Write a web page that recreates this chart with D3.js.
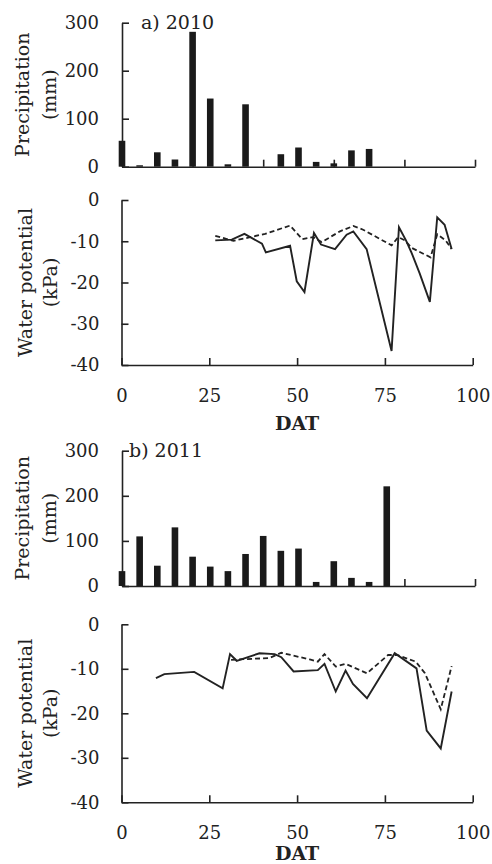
<!DOCTYPE html>
<html>
<head>
<meta charset="utf-8">
<script src="https://cdn.jsdelivr.net/npm/d3@7"></script>
<style>
  body { margin: 0; background: #fff; }
  text { font-family: "DejaVu Serif", serif; fill: #222; }
  .axis path, .axis line { stroke: #222; stroke-width: 1.6; }
  .axis text { font-size: 18px; }
</style>
</head>
<body>
<svg id="chart" width="492" height="864"></svg>
<script>
// precipitation bars (DAT, mm)
const barDat2010 = [0, 5, 10, 15, 20, 25, 30, 35, 40, 45, 50, 55, 60, 65, 70];
const precip2010 = [54, 3, 30, 15, 281, 142, 5, 130, 0, 26, 40, 10, 7, 34, 37];
const barDat2011 = [0, 5, 10, 15, 20, 25, 30, 35, 40, 45, 50, 55, 60, 65, 70, 75];
const precip2011 = [33, 110, 45, 130, 65, 43, 33, 71, 111, 78, 83, 9, 55, 18, 9, 221];

// water potential, solid line
const solidDat2010 = [26.7, 31.4, 35, 40, 41.1, 48, 49.9, 52.1, 54.8, 56.8, 60.8, 64.1, 66, 69.8, 76.9, 79, 81, 82.6, 84.9, 87.8, 89.9, 92, 94];
const solidKpa2010 = [-9.8, -9.6, -8.2, -10.6, -12.7, -11.1, -19.7, -22.3, -8.0, -10.8, -11.9, -8.4, -7.6, -11.9, -36.6, -6.6, -9.8, -12.8, -17.8, -24.7, -4.2, -6.0, -11.9];
// water potential, dashed line
const dashDat2010 = [26.7, 31.9, 40.9, 48, 51.5, 54.6, 57, 62.2, 66, 68.8, 76.9, 78.8, 80.7, 82.6, 88, 89.9, 92.3, 94];
const dashKpa2010 = [-8.7, -9.9, -8.2, -6.2, -9.5, -9, -10.2, -7.6, -6.3, -7.2, -11, -9, -9.8, -11.6, -13.9, -8.3, -9.8, -11.9];

const solidDat2011 = [9.8, 12.2, 20.7, 28.8, 30.9, 32.8, 39.3, 43.6, 45.5, 49, 55.9, 57.8, 61, 63.8, 65.9, 69.9, 77.8, 84, 86.9, 90.9, 94];
const solidKpa2011 = [-12.1, -11.2, -10.7, -14.4, -6.7, -8.2, -6.5, -6.7, -7.4, -10.6, -10.3, -8.9, -15.1, -10.4, -13.4, -16.6, -6.5, -9.9, -23.9, -27.9, -15.1];
const dashDat2011 = [31.2, 33, 42.1, 45.5, 53.6, 55.9, 57.8, 61, 63.8, 69.9, 75.9, 78.5, 83.8, 86.4, 90.9, 94];
const dashKpa2011 = [-8.0, -7.9, -7.6, -6.4, -7.9, -8.4, -6.7, -9.5, -8.9, -11, -6.9, -6.9, -8.4, -11, -19.1, -9.4];

const precipTicks = [0, 100, 200, 300];
const potTicks = [0, -10, -20, -30, -40];
const datTicks = [0, 25, 50, 75, 100];

const svg = d3.select("#chart");
const zip = (xs, ys) => xs.map((d, i) => [d, ys[i]]);
// plain hyphen for negatives, like the original figure
const plain = (d) => String(d);

const drawPanel = (p) => {
  // precipitation bars
  const xb = d3.scaleLinear().domain([0, 100]).range([122, 475]);
  const yb = d3.scaleLinear().domain([0, 300]).range([p.barBottom, p.barTop]);

  svg.append("g")
     .attr("class", "axis")
     .attr("transform", "translate(0," + p.barBottom + ")")
     .call(d3.axisBottom(xb).tickValues([20, 40, 60, 80, 100]).tickSizeInner(-7).tickSizeOuter(0).tickFormat(""));

  svg.append("g")
     .attr("class", "axis")
     .attr("transform", "translate(" + xb(0) + ",0)")
     .call(d3.axisLeft(yb).tickValues(precipTicks).tickSizeInner(-7).tickSizeOuter(0).tickPadding(23).tickFormat(plain));

  svg.append("g")
     .selectAll("rect")
     .data(zip(p.barDat, p.precip))
     .enter().append("rect")
       .attr("x", (d) => xb(d[0]) - 3.3)
       .attr("y", (d) => yb(d[1]))
       .attr("width", 6.6)
       .attr("height", (d) => p.barBottom - yb(d[1]))
       .attr("fill", "#1a1a1a");

  svg.append("text")
     .attr("x", p.titleX)
     .attr("y", p.barTop + 6)
     .style("font-size", "19px")
     .text(p.title);

  // text label for the precipitation axis
  svg.append("text")
     .attr("transform", "translate(22," + ((p.barTop + p.barBottom) / 2) + ") rotate(-90)")
     .attr("dy", "0.35em")
     .style("text-anchor", "middle")
     .style("font-size", "19px")
     .text("Precipitation");
  svg.append("text")
     .attr("transform", "translate(49," + ((p.barTop + p.barBottom) / 2) + ") rotate(-90)")
     .attr("dy", "0.35em")
     .style("text-anchor", "middle")
     .style("font-size", "19px")
     .text("(mm)");

  // water potential lines
  const xl = d3.scaleLinear().domain([0, 100]).range([121.5, 472.7]);
  const yl = d3.scaleLinear().domain([-40, 0]).range([p.lineBottom, p.lineTop]);

  svg.append("g")
     .attr("class", "axis")
     .attr("transform", "translate(0," + p.lineBottom + ")")
     .call(d3.axisBottom(xl).tickValues(datTicks).tickSizeInner(-7).tickSizeOuter(0).tickPadding(24).tickFormat(plain));

  svg.append("g")
     .attr("class", "axis")
     .attr("transform", "translate(" + xl(0) + ",0)")
     .call(d3.axisLeft(yl).tickValues(potTicks).tickSizeInner(-7).tickSizeOuter(0).tickPadding(22).tickFormat(plain));

  const line = d3.line().x((d) => xl(d[0])).y((d) => yl(d[1]));

  svg.append("path")
     .datum(zip(p.dashDat, p.dashKpa))
     .attr("d", line)
     .attr("fill", "none")
     .attr("stroke", "#222")
     .attr("stroke-width", 1.8)
     .attr("stroke-dasharray", "5,3");

  svg.append("path")
     .datum(zip(p.solidDat, p.solidKpa))
     .attr("d", line)
     .attr("fill", "none")
     .attr("stroke", "#222")
     .attr("stroke-width", 1.9);

  svg.append("text")
     .attr("transform", "translate(25," + ((p.lineTop + p.lineBottom) / 2) + ") rotate(-90)")
     .attr("dy", "0.35em")
     .style("text-anchor", "middle")
     .style("font-size", "19px")
     .text("Water potential");
  svg.append("text")
     .attr("transform", "translate(50," + ((p.lineTop + p.lineBottom) / 2) + ") rotate(-90)")
     .attr("dy", "0.35em")
     .style("text-anchor", "middle")
     .style("font-size", "19px")
     .text("(kPa)");

  svg.append("text")
     .attr("x", xl(50))
     .attr("y", p.datY)
     .style("text-anchor", "middle")
     .style("font-size", "19px")
     .style("font-weight", "bold")
     .text("DAT");
};

drawPanel({
  title: "a) 2010", titleX: 141,
  barTop: 22.7, barBottom: 166.7, lineTop: 200, lineBottom: 365, datY: 430,
  barDat: barDat2010, precip: precip2010,
  solidDat: solidDat2010, solidKpa: solidKpa2010,
  dashDat: dashDat2010, dashKpa: dashKpa2010
});

drawPanel({
  title: "b) 2011", titleX: 129,
  barTop: 450.7, barBottom: 586, lineTop: 624.3, lineBottom: 802.3, datY: 860,
  barDat: barDat2011, precip: precip2011,
  solidDat: solidDat2011, solidKpa: solidKpa2011,
  dashDat: dashDat2011, dashKpa: dashKpa2011
});
</script>
</body>
</html>
